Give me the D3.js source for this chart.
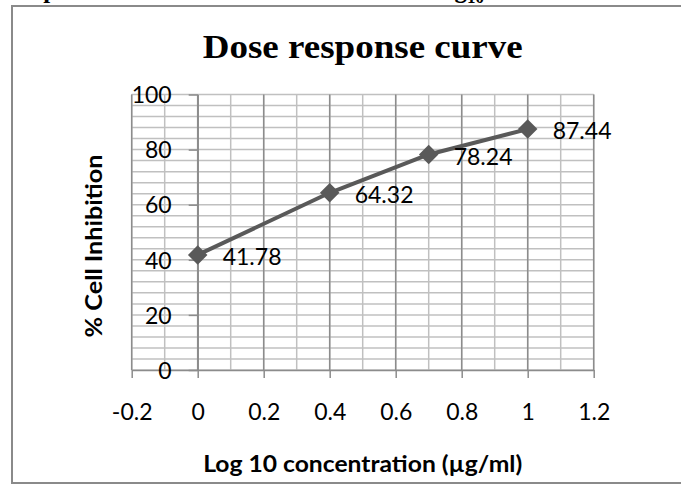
<!DOCTYPE html>
<html>
<head>
<meta charset="utf-8">
<script src="https://cdn.jsdelivr.net/npm/d3@7"></script>
<style>
  body { margin: 0; background: #fff; }
  svg { display: block; }
  .tick text { font-family: Lato, "Open Sans", sans-serif; font-size: 23px; fill: #000; }
  .axis-title { font-family: Lato, "Open Sans", sans-serif; font-weight: bold; font-size: 22px; fill: #000; }
  .data-label { font-family: Lato, "Open Sans", sans-serif; font-size: 23px; fill: #000; }
</style>
</head>
<body>
<div id="graphic"></div>
<script>
(function(d3){

    // Data
    let logConc = [0, 0.4, 0.7, 1];
    let inhibition = [41.78, 64.32, 78.24, 87.44];

    // Axis ticks
    let xTicks = [-0.2, 0, 0.2, 0.4, 0.6, 0.8, 1, 1.2];
    let yTicks = [0, 20, 40, 60, 80, 100];
    let xMinorStep = 0.1, yMinorStep = 4;

    let title = 'Dose response curve';
    let xTitle = 'Log 10 concentration (\u00b5g/ml)';
    let yTitle = '% Cell Inhibition';

    // Canvas size
    let width = 681, height = 486;

    // Plot area
    let left = 131.7, right = 593.7, top = 94.5, bottom = 370;

    let svg = d3.select('#graphic')
                .append('svg')
                .attr('width', width)
                .attr('height', height);

    // Caption line above the chart box, mostly cut off by the page top
    let cap = svg.append('text')
        .attr('x', 14)
        .attr('y', -2)
        .style('font-family', '"Liberation Serif", "Times New Roman", serif')
        .style('font-weight', 'bold')
        .style('font-size', '25px')
        .text('Representation of %Cell Inhibition vs Log');
    cap.append('tspan').attr('dy', 5).style('font-size', '17px').text('10');
    cap.append('tspan').attr('dy', -5).text(' concentration');

    // Chart frame
    svg.append('rect')
        .attr('x', 12)
        .attr('y', 6)
        .attr('width', 700)
        .attr('height', 477)
        .attr('fill', '#fff')
        .attr('stroke', '#8a8a8a')
        .attr('stroke-width', 2);

    let x = d3.scaleLinear().domain([xTicks[0], xTicks[xTicks.length - 1]]).range([left, right]);
    let y = d3.scaleLinear().domain([yTicks[0], yTicks[yTicks.length - 1]]).range([bottom, top]);

    // Minor gridlines
    let xMinor = d3.range(xTicks[0], xTicks[xTicks.length - 1] + 1e-9, xMinorStep);
    let yMinor = d3.range(yTicks[0], yTicks[yTicks.length - 1] + 1e-9, yMinorStep);

    svg.append('g').selectAll('line')
        .data(yMinor)
        .join('line')
        .attr('x1', left).attr('x2', right)
        .attr('y1', d => y(d)).attr('y2', d => y(d))
        .attr('stroke', '#c0c0c0')
        .attr('stroke-width', 1.5);

    svg.append('g').selectAll('line')
        .data(xMinor)
        .join('line')
        .attr('x1', d => x(d)).attr('x2', d => x(d))
        .attr('y1', top).attr('y2', bottom)
        .attr('stroke', '#c0c0c0')
        .attr('stroke-width', 1.5);

    // Major vertical gridlines
    svg.append('g').selectAll('line')
        .data(xTicks)
        .join('line')
        .attr('x1', d => x(d)).attr('x2', d => x(d))
        .attr('y1', top).attr('y2', bottom)
        .attr('stroke', '#8c8c8c')
        .attr('stroke-width', 1.5);

    // X axis along y = 0
    let fmt = d => String(+d.toFixed(1));
    let xAxis = svg.append('g')
        .attr('transform', `translate(0,${y(0)})`)
        .call(d3.axisBottom(x).tickValues(xTicks).tickFormat(fmt).tickSize(8).tickPadding(26).tickSizeOuter(0));
    xAxis.select('.domain').attr('stroke', '#8c8c8c').attr('stroke-width', 1.5);
    xAxis.selectAll('.tick line').attr('stroke', '#8c8c8c').attr('stroke-width', 1.5);

    // Y axis along x = 0
    let yAxis = svg.append('g')
        .attr('transform', `translate(${x(0)},0)`)
        .call(d3.axisLeft(y).tickValues(yTicks).tickFormat(fmt).tickSize(9).tickPadding(17).tickSizeOuter(0));
    yAxis.select('.domain').attr('stroke', '#8c8c8c').attr('stroke-width', 1.5);
    yAxis.selectAll('.tick line').attr('stroke', '#8c8c8c').attr('stroke-width', 1.5);
    yAxis.selectAll('.tick text').attr('dy', '0.36em');

    // Series line
    let points = logConc.map((c, i) => ({ c: c, v: inhibition[i] }));

    let line = d3.line().x(d => x(d.c)).y(d => y(d.v));

    svg.append('path')
        .datum(points)
        .attr('d', line)
        .attr('fill', 'none')
        .attr('stroke', '#595959')
        .attr('stroke-width', 4)
        .attr('stroke-linejoin', 'round');

    // Diamond markers
    svg.append('g').selectAll('path')
        .data(points)
        .join('path')
        .attr('d', d3.symbol().type(d3.symbolSquare).size(190))
        .attr('transform', d => `translate(${x(d.c)},${y(d.v)}) rotate(45)`)
        .attr('fill', '#595959');

    // Data labels
    svg.append('g').selectAll('text')
        .data(points)
        .join('text')
        .attr('class', 'data-label')
        .attr('x', d => x(d.c) + 25)
        .attr('y', d => y(d.v) + 2)
        .attr('dy', '0.36em')
        .text(d => d.v.toFixed(2));

    // Title
    svg.append('text')
        .attr('x', (left + right) / 2)
        .attr('y', 58)
        .attr('text-anchor', 'middle')
        .attr('textLength', 320)
        .attr('lengthAdjust', 'spacingAndGlyphs')
        .style('font-family', '"Liberation Serif", "Times New Roman", serif')
        .style('font-weight', 'bold')
        .style('font-size', '33px')
        .text(title);

    // Axis titles
    svg.append('text')
        .attr('class', 'axis-title')
        .attr('x', (left + right) / 2)
        .attr('y', 472)
        .attr('text-anchor', 'middle')
        .attr('textLength', 319)
        .attr('lengthAdjust', 'spacingAndGlyphs')
        .text(xTitle);

    svg.append('text')
        .attr('class', 'axis-title')
        .attr('transform', `translate(102,${246}) rotate(-90)`)
        .attr('text-anchor', 'middle')
        .attr('textLength', 183)
        .attr('lengthAdjust', 'spacingAndGlyphs')
        .text(yTitle);

})(window.d3);
</script>
</body>
</html>
